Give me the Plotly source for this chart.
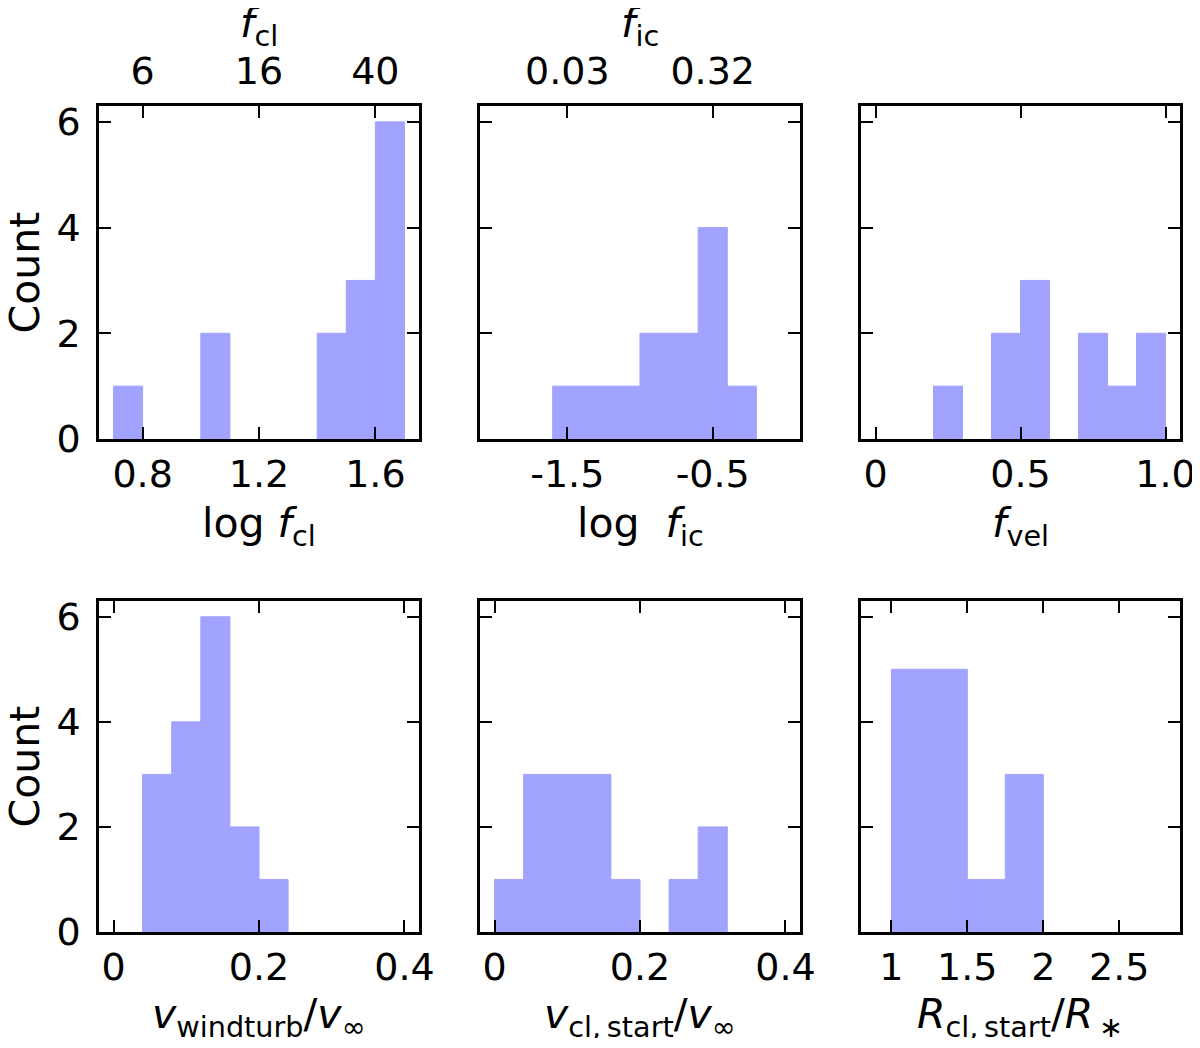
import plotly.graph_objects as go

# ---------------- data (histogram bins) ----------------
# panel 1: log f_cl
logfcl_edges = [0.7, 0.8, 0.9, 1.0, 1.1, 1.2, 1.3, 1.4, 1.5, 1.6, 1.7]
logfcl_counts = [1, 0, 0, 2, 0, 0, 0, 2, 3, 6]
# panel 2: log f_ic
logfic_edges = [-1.6, -1.4, -1.2, -1.0, -0.8, -0.6, -0.4, -0.2]
logfic_counts = [1, 1, 1, 2, 2, 4, 1]
# panel 3: f_vel
fvel_edges = [0.2, 0.3, 0.4, 0.5, 0.6, 0.7, 0.8, 0.9, 1.0]
fvel_counts = [1, 0, 2, 3, 0, 2, 1, 2]
# panel 4: v_windturb / v_inf
vturb_edges = [0.04, 0.08, 0.12, 0.16, 0.20, 0.24]
vturb_counts = [3, 4, 6, 2, 1]
# panel 5: v_cl,start / v_inf
vcl_edges = [0.0, 0.04, 0.08, 0.12, 0.16, 0.20, 0.24, 0.28, 0.32]
vcl_counts = [1, 3, 3, 3, 1, 0, 1, 2]
# panel 6: R_cl,start / R_*
rcl_edges = [1.0, 1.25, 1.5, 1.75, 2.0]
rcl_counts = [5, 5, 1, 3]

# tick values / labels
y_ticks = [0, 2, 4, 6]
x1_ticks = [0.8, 1.2, 1.6]
x1_top_labels = ["6", "16", "40"]
x2_ticks = [-1.5, -0.5]
x2_labels = ["-1.5", "-0.5"]
x2_top_labels = ["0.03", "0.32"]
x3_ticks = [0, 0.5, 1.0]
x3_labels = ["0", "0.5", "1.0"]
x4_ticks = [0, 0.2, 0.4]
x5_ticks = [0, 0.2, 0.4]
x6_ticks = [1, 1.5, 2, 2.5]
x6_labels = ["1", "1.5", "2", "2.5"]

x_titles = [
    "log <i>f</i><sub>cl</sub>",
    "log\u00a0 <i>f</i><sub>ic</sub>",
    "<i>f</i><sub>vel</sub>",
    "<i>v</i><sub>windturb</sub>/<i>v</i><sub>\u221e</sub>",
    "<i>v</i><sub>cl,\u2009start</sub>/<i>v</i><sub>\u221e</sub>",
    "<i>R</i><sub>cl,\u2009start</sub>/<i>R</i><sub>\u2009\u2217</sub>",
]
top_titles = ["<i>f</i><sub>cl</sub>", "<i>f</i><sub>ic</sub>"]

# ---------------- layout geometry ----------------
OFF = 8                      # page body margin
W, H = 1200 - 2 * OFF, 1048 - 2 * OFF - 2
FONT = "DejaVu Sans"
TICKF = 38
LABF = 41
BAR = "rgb(162,162,255)"

def px2x(p):
    return (p - OFF) / W

def px2y(p):
    return 1 - (p - OFF) / H

col_dom = [[px2x(99), px2x(419)], [px2x(480), px2x(800)], [px2x(861), px2x(1180)]]
row_dom = [[px2y(439), px2y(106)], [px2y(932), px2y(601)]]

panels = [
    (logfcl_edges, logfcl_counts, [0.65, 1.75], x1_ticks, None),
    (logfic_edges, logfic_counts, [-2.1, 0.1], x2_ticks, x2_labels),
    (fvel_edges, fvel_counts, [-0.05, 1.05], x3_ticks, x3_labels),
    (vturb_edges, vturb_counts, [-0.02, 0.42], x4_ticks, None),
    (vcl_edges, vcl_counts, [-0.02, 0.42], x5_ticks, None),
    (rcl_edges, rcl_counts, [0.8, 2.9], x6_ticks, x6_labels),
]

fig = go.Figure()
layout = dict(
    width=W, height=H,
    margin=dict(l=0, r=0, t=0, b=0),
    paper_bgcolor="white", plot_bgcolor="white",
    showlegend=False,
    font=dict(family=FONT, size=TICKF, color="black"),
    annotations=[],
)

axis_common = dict(
    showgrid=False, zeroline=False, showline=True, linecolor="black",
    linewidth=2.5, mirror="ticks", ticks="inside", ticklen=12, tickwidth=2,
    tickcolor="black", tickfont=dict(family=FONT, size=TICKF, color="black"),
    automargin=False, ticklabeloverflow="allow",
)

for i, (edges, counts, xr, xt, xl) in enumerate(panels):
    n = i + 1
    r, c = divmod(i, 3)
    xa = "x" if n == 1 else f"x{n}"
    ya = "y" if n == 1 else f"y{n}"
    centers = [(edges[k] + edges[k + 1]) / 2 for k in range(len(counts))]
    widths = [edges[k + 1] - edges[k] for k in range(len(counts))]
    line_cols = [BAR if v > 0 else "rgba(0,0,0,0)" for v in counts]
    fig.add_trace(go.Bar(x=centers, y=counts, width=widths, xaxis=xa, yaxis=ya,
                         marker=dict(color=BAR, line=dict(width=1, color=line_cols)),
                         hoverinfo="skip"))
    xkey = "xaxis" if n == 1 else f"xaxis{n}"
    ykey = "yaxis" if n == 1 else f"yaxis{n}"
    xd = dict(axis_common, domain=col_dom[c], range=xr, anchor=ya,
              tickvals=xt, ticklabelstandoff=0)
    if xl is not None:
        xd["ticktext"] = xl
    layout[xkey] = xd
    layout[ykey] = dict(axis_common, domain=row_dom[r], range=[0, 6.3], anchor=xa,
                        tickvals=y_ticks, showticklabels=(c == 0),
                        ticklabelstandoff=8)
    layout["annotations"].append(dict(
        text=x_titles[i], xref="paper", yref="paper",
        x=sum(col_dom[c]) / 2, y=px2y(526 if r == 0 else 1017),
        xanchor="center", yanchor="middle", showarrow=False,
        font=dict(family=FONT, size=LABF, color="black")))

# top (secondary) axes for panels 1 and 2
for n, (base, tv, tl, rng, c) in zip([7, 8], [("x", x1_ticks, x1_top_labels, [0.65, 1.75], 0),
                                           ("x2", x2_ticks, x2_top_labels, [-2.1, 0.1], 1)]):
    ya = "y" if base == "x" else "y2"
    fig.add_trace(go.Scatter(x=[rng[0]], y=[0], xaxis=f"x{n}", yaxis=ya,
                             mode="markers", marker=dict(opacity=0), hoverinfo="skip"))
    layout[f"xaxis{n}"] = dict(overlaying=base, side="top", anchor=ya, range=rng,
                               showgrid=False, zeroline=False, showline=False,
                               ticks="", tickvals=tv, ticktext=tl, automargin=False,
                               tickfont=dict(family=FONT, size=TICKF, color="black"),
                               ticklabelstandoff=13)
    layout["annotations"].append(dict(
        text=top_titles[c], xref="paper", yref="paper",
        x=sum(col_dom[c]) / 2, y=px2y(26), xanchor="center", yanchor="middle",
        showarrow=False, font=dict(family=FONT, size=LABF, color="black")))

for r in range(2):
    layout["annotations"].append(dict(
        text="Count", xref="paper", yref="paper", x=px2x(24),
        y=sum(row_dom[r]) / 2, xanchor="center", yanchor="middle",
        textangle=-90, showarrow=False,
        font=dict(family=FONT, size=LABF, color="black")))

fig.update_layout(**layout)
fig.write_html("out.html")
